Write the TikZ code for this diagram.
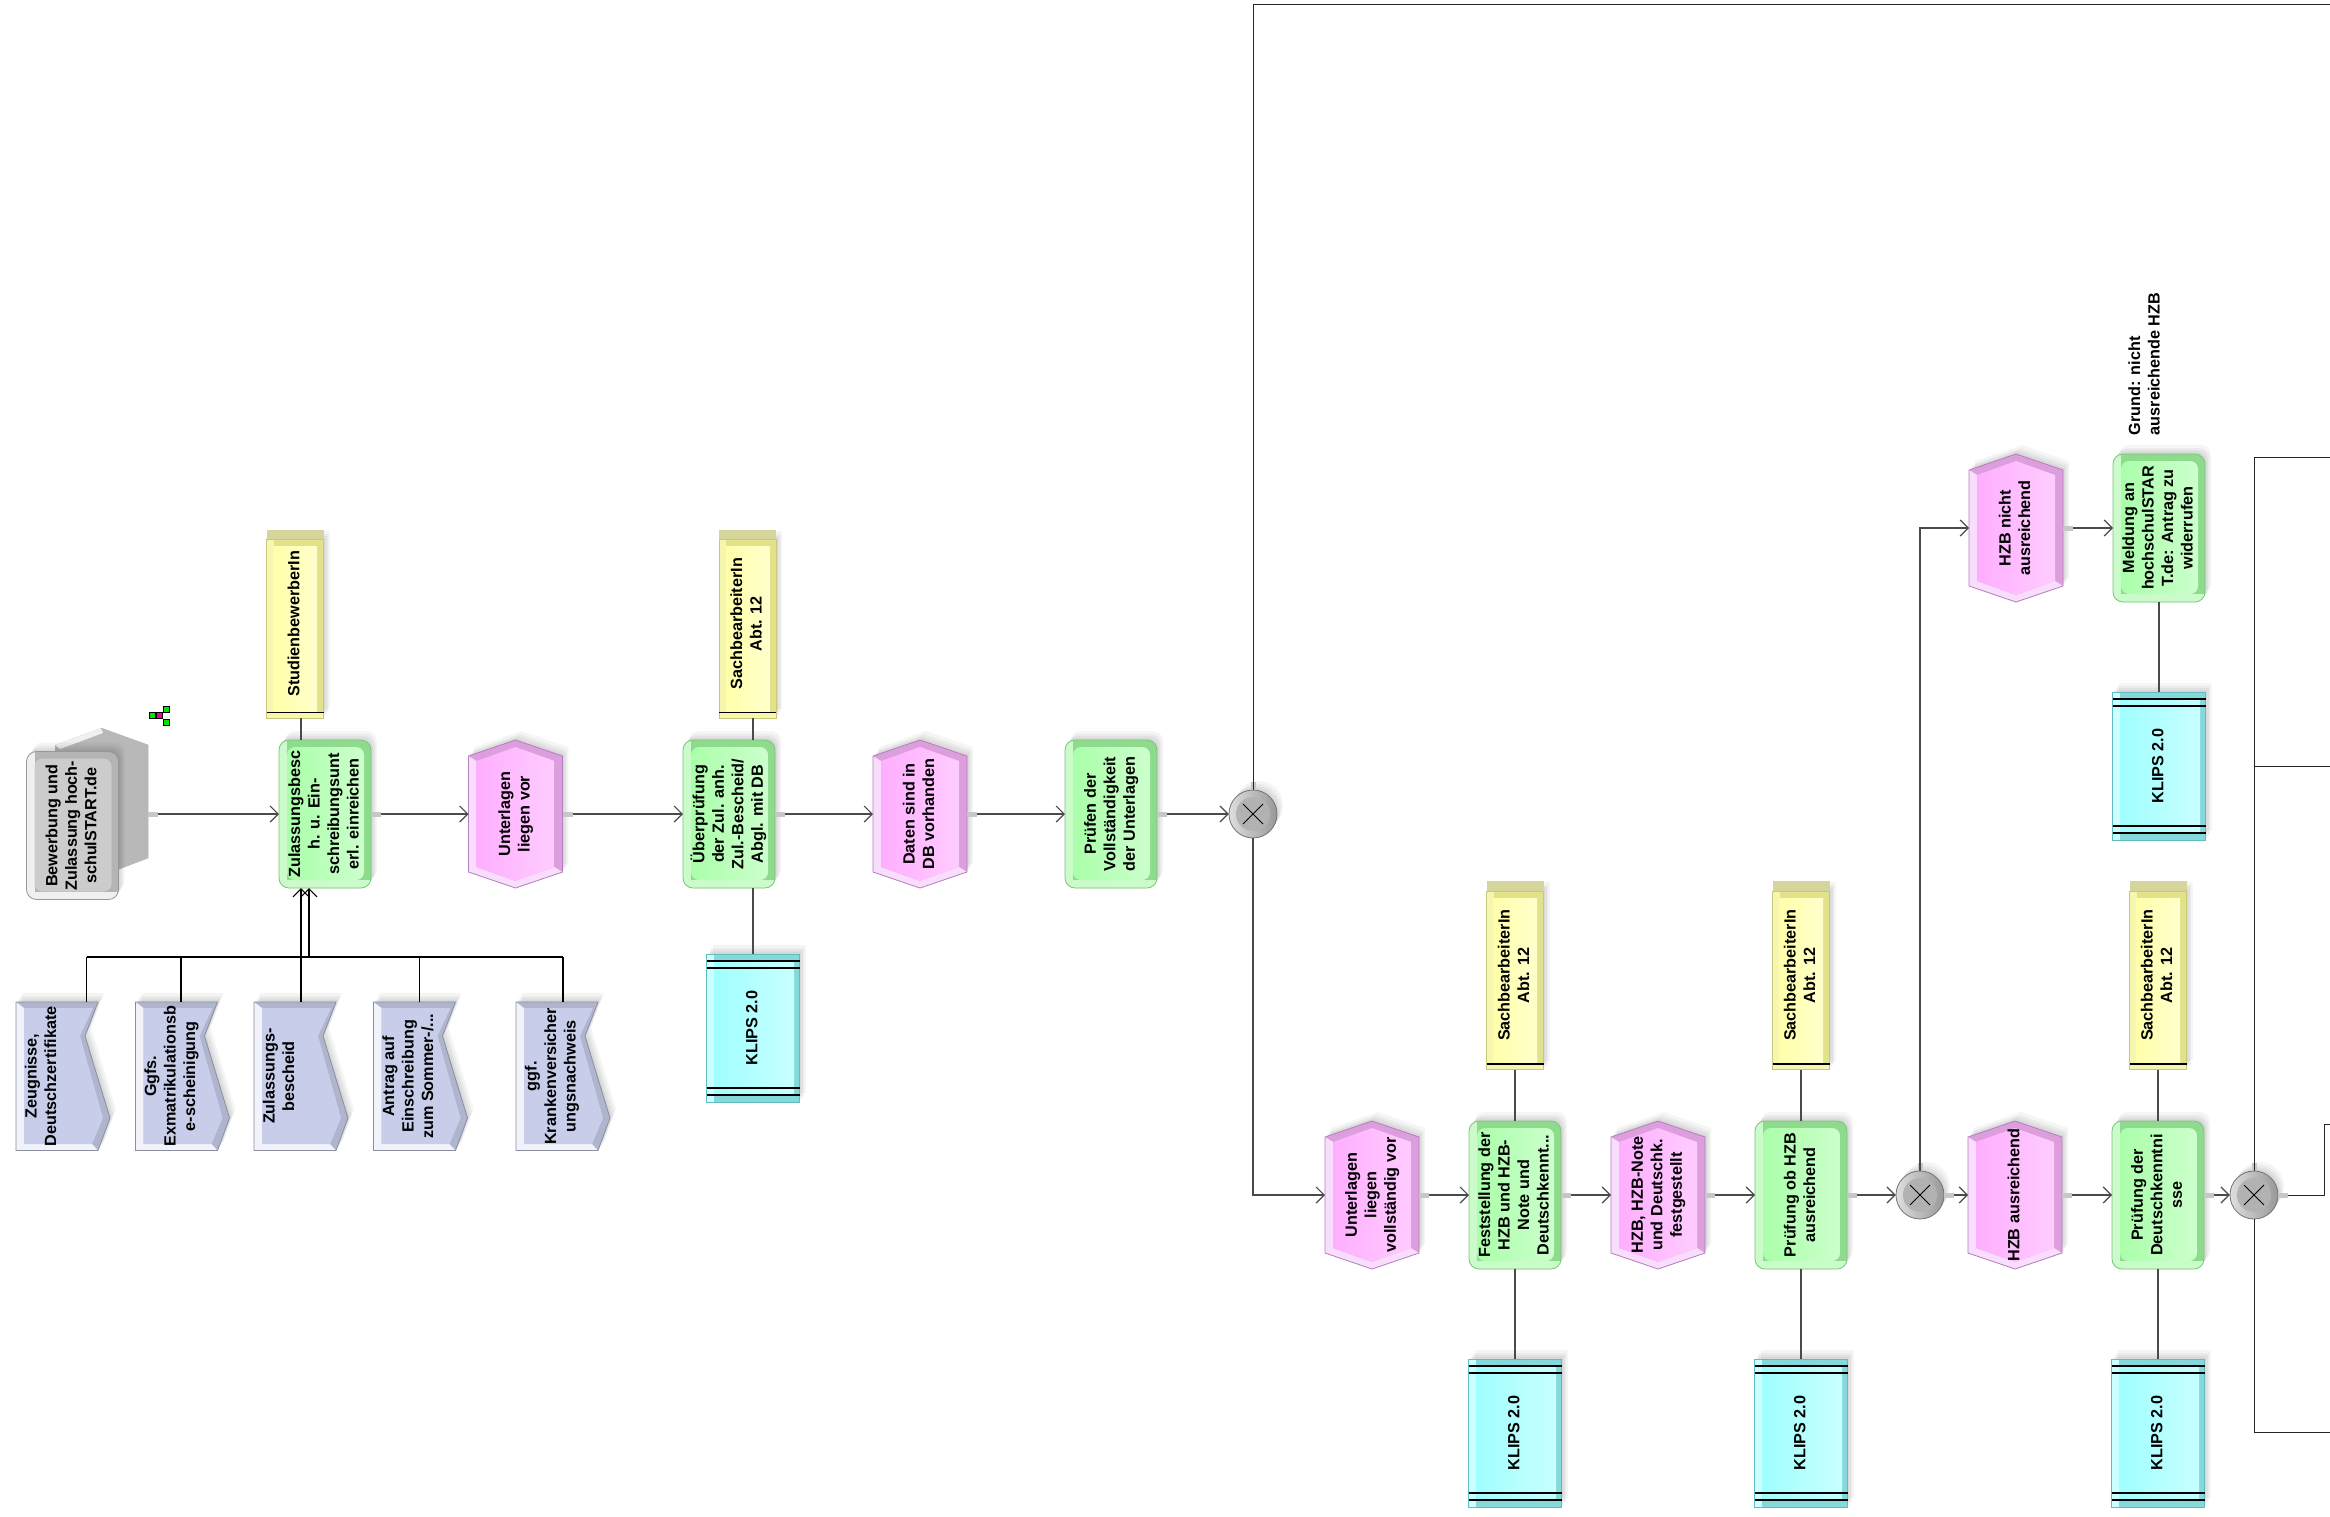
\documentclass[tikz,border=0pt]{standalone}
\usepackage{graphicx}
\usepackage{fontspec}
\setmainfont{Liberation Sans}
\usetikzlibrary{arrows.meta,calc}
\definecolor{lineC}{HTML}{4A4A4A}
\definecolor{fnDark}{HTML}{8EDB8E}\definecolor{fnLight}{HTML}{CBFACB}\definecolor{fnA}{HTML}{AAFFAA}\definecolor{fnB}{HTML}{CCFFCC}\definecolor{fnE}{HTML}{7CC47C}
\definecolor{evDark}{HTML}{DC9EDC}\definecolor{evLight}{HTML}{F9DDFD}\definecolor{evA}{HTML}{FFAEFF}\definecolor{evB}{HTML}{FFCCFF}\definecolor{evE}{HTML}{B47FBE}
\definecolor{roDark}{HTML}{E2E28A}\definecolor{roLight}{HTML}{F6F6AE}\definecolor{roA}{HTML}{FFFFAA}\definecolor{roB}{HTML}{FFFFCC}\definecolor{roE}{HTML}{C8C87A}\definecolor{roTop}{HTML}{D6D69C}
\definecolor{syDark}{HTML}{84DADA}\definecolor{syLight}{HTML}{CCFFFF}\definecolor{syA}{HTML}{A0FFFF}\definecolor{syB}{HTML}{C8FFFF}\definecolor{syE}{HTML}{60BCC0}
\definecolor{doDark}{HTML}{B0B5CE}\definecolor{doLight}{HTML}{F2F3FA}\definecolor{doA}{HTML}{C8CDEA}\definecolor{doE}{HTML}{8A8E9E}
\definecolor{grDark}{HTML}{B4B4B4}\definecolor{grLight}{HTML}{F0F0F0}\definecolor{grA}{HTML}{CCCCCC}\definecolor{grE}{HTML}{989898}
\newcommand{\txtrot}[1]{\rotatebox{90}{\fontsize{16.2}{19.5}\selectfont\bfseries\begin{tabular}{@{}c@{}}#1\end{tabular}}}
\newcommand{\txtrotl}[1]{\rotatebox{90}{\fontsize{16.2}{19.5}\selectfont\bfseries\begin{tabular}{@{}l@{}}#1\end{tabular}}}
\newcommand{\ShadowPath}[1]{\foreach \sx/\sy in {1.5/-2,3/-4,4.5/-6,6/-9}{\fill[black,opacity=.04,shift={(\sx,\sy)}] #1;}}
\newcommand{\RoundBevel}[9]{%
 \begin{scope}[shift={(#1,#2)}]
 \ShadowPath{[rounded corners=10pt] (-#3,-#4) rectangle (#3,#4)}
 \fill[#5,rounded corners=10pt] (-#3,-#4) rectangle (#3,#4);
 \begin{scope}
  \clip[rounded corners=10pt] (-#3,-#4) rectangle (#3,#4);
  \fill[#6] (-#3,-#4) rectangle ($(-#3,#4)+(8,0)$);
  \fill[#6] ($(-#3,#4)+(0,-8)$) rectangle (#3,#4);
 \end{scope}
 \shade[left color=#7,right color=#8,rounded corners=8pt] ($(-#3,-#4)+(8,7)$) rectangle ($(#3,#4)+(-7,-8)$);
 \draw[#9,line width=.8pt,rounded corners=10pt] (-#3,-#4) rectangle (#3,#4);
 \end{scope}}
\newcommand{\FnBox}[4]{%
 \RoundBevel{#2}{#3}{46}{74}{fnDark}{fnLight}{fnA}{fnB}{fnE}
 \node[plainbox,minimum width=92pt,minimum height=148pt] (#1) at (#2,#3) {\hspace*{1pt}\txtrot{#4}};}
\newcommand{\EvtBox}[4]{%
 \begin{scope}[shift={(#2,#3)}]
 \ShadowPath{(-47,-58)--(0,-74)--(47,-58)--(47,58)--(0,74)--(-47,58)--cycle}
 \fill[evDark] (-47,-58)--(0,-74)--(47,-58)--(47,58)--(0,74)--(-47,58)--cycle;
 \fill[evLight] (-47,-58)--(-47,58)--(0,74)--(47,58)--(39,53)--(0,67)--(-39,53)--(-39,-53)--cycle;
 \shade[left color=evA,right color=evB] (-39,-53)--(0,-67)--(39,-53)--(39,53)--(0,67)--(-39,53)--cycle;
 \draw[evE,line width=.8pt] (-47,-58)--(0,-74)--(47,-58)--(47,58)--(0,74)--(-47,58)--cycle;
 \end{scope}
 \node[plainbox,minimum width=94pt,minimum height=148pt] (#1) at (#2,#3) {\hspace*{1pt}\txtrot{#4}};}
\newcommand{\RoleBox}[4]{%
 \begin{scope}[shift={(#2,#3)}]
 \ShadowPath{(-28.5,10)rectangle(28.5,188.5)}
 \fill[roTop] (-28.5,0) rectangle (28.5,11);
 \fill[roDark] (-28.5,10) rectangle (28.5,188.5);
 \fill[roLight] (-28.5,10) rectangle (-21.5,188.5);
 \fill[roLight] (-28.5,183) rectangle (28.5,188.5);
 \shade[left color=roA,right color=roB] (-21.5,17) rectangle (22,183);
 \draw[roE,line width=.8pt] (-28.5,10) rectangle (28.5,188.5);
 \draw[black,line width=1.6pt] (-28.5,183) -- (28.5,183);
 \end{scope}
 \node[plainbox,minimum width=57pt,minimum height=188.5pt,anchor=north] (#1) at (#2,#3) {\hspace*{1pt}\txtrot{#4}};}
\newcommand{\SysBox}[3]{%
 \begin{scope}[shift={(#2,#3)}]
 \ShadowPath{(-46.5,0)rectangle(46.5,148)}
 \fill[syDark] (-46.5,0) rectangle (46.5,148);
 \fill[syLight] (-46.5,0) rectangle (-39,148);
 \shade[left color=syA,right color=syB] (-39,7) rectangle (41,141);
 \draw[syE,line width=.8pt] (-46.5,0) rectangle (46.5,148);
 \draw[black,line width=1.6pt] (-46.5,7)--(46.5,7) (-46.5,14)--(46.5,14) (-46.5,134)--(46.5,134) (-46.5,141)--(46.5,141);
 \end{scope}
 \node[plainbox,minimum width=93pt,minimum height=148pt,anchor=north] (#1) at (#2,#3) {\hspace*{1pt}\txtrot{KLIPS 2.0}};}
\newcommand{\DocBox}[4]{%
 \begin{scope}[shift={(#2,#3)}]
 \ShadowPath{(0,0)--(82,0)--(69,34)--(94,116)--(82,148.5)--(0,148.5)--cycle}
 \fill[doDark] (0,0)--(82,0)--(69,34)--(94,116)--(82,148.5)--(0,148.5)--cycle;
 \fill[doLight] (0,0)--(0,148.5)--(82,148.5)--(76,142)--(8,142)--(8,6)--cycle;
 \fill[doA] (8,6)--(77,6)--(64,34)--(87,116)--(76,142)--(8,142)--cycle;
 \draw[doE,line width=.8pt] (0,0)--(82,0)--(69,34)--(94,116)--(82,148.5)--(0,148.5)--cycle;
 \end{scope}
 \node[plainbox,minimum width=94pt,minimum height=148.5pt,anchor=north west] (#1) at (#2,#3) {\makebox[94pt][l]{\hspace{7pt}\txtrot{#4}}};}
\newcommand{\XorBox}[3]{%
 \begin{scope}[shift={(#2,#3)}]
 \ShadowPath{(0,0) circle[radius=24]}
 \shade[left color=grLight!70!grDark,right color=grE] (0,0) circle[radius=24];
 \fill[black!30] (0,0) circle[radius=17];
 \draw[black!55,line width=.8pt] (0,0) circle[radius=24];
 \draw[black,line width=1pt] (-10,-10)--(10,10) (-10,10)--(10,-10);
 \end{scope}
 \node[circle,inner sep=0pt,minimum size=48pt] (#1) at (#2,#3) {};}
\tikzset{
 plainbox/.style={inner sep=0pt,outer sep=0pt,rectangle},
 flow/.style={draw=lineC,line width=1.2pt,-{Straight Barb[length=8pt,width=16pt]}},
 plainline/.style={draw=black!85,line width=1pt},
 attach/.style={draw=lineC,line width=1.4pt},
 busline/.style={draw=black,line width=1.2pt},
 stub/.style={draw=black!22,line width=5pt},
 icG/.style={draw=black,line width=.5pt,fill=green!90!black,inner sep=0pt,minimum size=6pt},
 icM/.style={draw=black,line width=.5pt,fill=magenta,inner sep=0pt,minimum size=6pt}
}
\begin{document}
\begin{tikzpicture}[x=1pt,y=-1pt]
\useasboundingbox (0,0) rectangle (2330,1516);
\fill[white] (0,0) rectangle (2330,1516);

% start process interface
\fill[grA!90!black] (55,745)--(101,728)--(148,745)--(148,858)--(119,869)--(55,869)--cycle;
\fill[grLight] (55,745)--(101,728)--(103,733)--(60,749)--cycle;
\draw[grE!70,line width=.6pt] (101,728)--(148,745)--(148,858)--(119,869);
\RoundBevel{72.5}{825.5}{46}{74}{grDark}{grLight}{grA}{grA}{grE}
\node[plainbox,minimum width=92pt,minimum height=148pt] (start) at (72.5,825.5) {\hspace*{1pt}\txtrot{Bewerbung und\\Zulassung hoch-\\schulSTART.de}};

% small assignment icon
\node[icG] (ica) at (152,715.5) {};
\node[icG] (icb) at (166,709) {};
\node[icG] (icc) at (166,722) {};
\node[icM] (icm) at (159.5,715.5) {};
\draw[black,line width=.4pt] (ica)--(icm) (icm)--(icb) (icm)--(icc);

% nodes
\RoleBox{r1}{295}{529.5}{StudienbewerberIn}
\FnBox{f1}{325}{814}{Zulassungsbesc\\h. u. Ein-\\schreibungsunt\\erl. einreichen}
\EvtBox{e1}{515.5}{814}{Unterlagen\\liegen vor}
\RoleBox{r2}{747.5}{529.5}{SachbearbeiterIn\\Abt. 12}
\FnBox{f2}{729}{814}{Überprüfung\\der Zul. anh.\\Zul.-Bescheid/\\Abgl. mit DB}
\SysBox{k2}{753}{954}
\EvtBox{e2}{920}{814}{Daten sind in\\DB vorhanden}
\FnBox{f3}{1111}{814}{Prüfen der\\Vollständigkeit\\der Unterlagen}
\XorBox{c1}{1253}{814}

\EvtBox{e3}{1372}{1195}{Unterlagen\\liegen\\vollständig vor}
\RoleBox{r3}{1515}{881}{SachbearbeiterIn\\Abt. 12}
\FnBox{f4}{1515}{1195}{Feststellung der\\HZB und HZB-\\Note und\\Deutschkennt...}
\SysBox{k4}{1515}{1359}
\EvtBox{e4}{1658}{1195}{HZB, HZB-Note\\und Deutschk.\\festgestellt}
\RoleBox{r4}{1801}{881}{SachbearbeiterIn\\Abt. 12}
\FnBox{f5}{1801}{1195}{Prüfung ob HZB\\ausreichend}
\SysBox{k5}{1801}{1359}
\XorBox{c2}{1920}{1195}

\EvtBox{e5}{2016}{528}{HZB nicht\\ausreichend}
\FnBox{f6}{2159}{528}{Meldung an\\hochschulSTAR\\T.de: Antrag zu\\widerrufen}
\SysBox{k6}{2159}{692}
\node[plainbox,anchor=south] (anno) at (2146,435) {\txtrotl{Grund: nicht\\ausreichende HZB}};

\EvtBox{e6}{2015}{1195}{HZB ausreichend}
\RoleBox{r7}{2158}{881}{SachbearbeiterIn\\Abt. 12}
\FnBox{f7}{2158}{1195}{Prüfung der\\Deutschkenntni\\sse}
\SysBox{k7}{2158}{1359}
\XorBox{c3}{2254}{1195}

\DocBox{d1}{16}{1002}{Zeugnisse,\\Deutschzertifikate}
\DocBox{d2}{135.5}{1002}{Ggfs.\\Exmatrikulationsb\\e-scheinigung}
\DocBox{d3}{254}{1002}{Zulassungs-\\bescheid}
\DocBox{d4}{373.5}{1002}{Antrag auf\\Einschreibung\\zum Sommer-/...}
\DocBox{d5}{516}{1002}{ggf.\\Krankenversicher\\ungsnachweis}

% free-end coordinates
\coordinate (bus) at (0,957);
\coordinate (startout) at (148,814);
\coordinate (p1) at (86.5,1002);
\coordinate (p2) at (181,1002);
\coordinate (p3) at (301,1002);
\coordinate (p3b) at (309,1002);
\coordinate (p4) at (419.5,1002);
\coordinate (p5) at (563,1002);
\coordinate (topend) at (2330,4);
\coordinate (c3up) at (2330,457);
\coordinate (c3mid) at (2330,766);
\coordinate (c3down) at (2330,1432);
\coordinate (c3rA) at (2324,1195);
\coordinate (c3rB) at (2324,1124);
\coordinate (c3rC) at (2330,1124);

% document bus and inputs
\draw[busline] (p1) -- (p1|-bus);
\draw[busline] (p2) -- (p2|-bus);
\draw[busline] (p3) -- (p3|-bus);
\draw[busline] (p4) -- (p4|-bus);
\draw[busline] (p5) -- (p5|-bus);
\draw[busline] (p1|-bus) -- (p5|-bus);
\draw[flow,draw=black] (p3|-bus) -- (p3|-f1.south);
\draw[flow,draw=black] (p3b|-bus) -- (p3b|-f1.south);

% stubs of outgoing flows
\draw[stub] (startout) -- ([xshift=10pt]startout);
\foreach \n in {f1,e1,f2,e2,f3,e3,f4,e4,f5,e5,e6,f7}{
 \draw[stub] (\n.east) -- ([xshift=10pt]\n.east);}
\foreach \n in {c2,c3}{\draw[stub] (\n.east) -- ([xshift=10pt]\n.east);}
\foreach \n in {c1,c2,c3}{\draw[stub] (\n.north) -- ([yshift=8pt]\n.north);}

% flows
\draw[flow] ([xshift=10pt]startout) -- (f1.west);
\draw[flow] ([xshift=10pt]f1.east) -- (e1.west);
\draw[flow] ([xshift=10pt]e1.east) -- (f2.west);
\draw[flow] ([xshift=10pt]f2.east) -- (e2.west);
\draw[flow] ([xshift=10pt]e2.east) -- (f3.west);
\draw[flow] ([xshift=10pt]f3.east) -- (c1.west);
\draw[plainline] (c1.north) |- (topend);
\draw[flow] (c1.south) |- (e3.west);
\draw[flow] ([xshift=10pt]e3.east) -- (f4.west);
\draw[flow] ([xshift=10pt]f4.east) -- (e4.west);
\draw[flow] ([xshift=10pt]e4.east) -- (f5.west);
\draw[flow] ([xshift=10pt]f5.east) -- (c2.west);
\draw[flow] (c2.north) |- (e5.west);
\draw[flow] ([xshift=10pt]e5.east) -- (f6.west);
\draw[flow] ([xshift=10pt]c2.east) -- (e6.west);
\draw[flow] ([xshift=10pt]e6.east) -- (f7.west);
\draw[flow] ([xshift=10pt]f7.east) -- (c3.west);
\draw[plainline] (c3.north) |- (c3up);
\draw[plainline] (c3.north|-c3mid) -- (c3mid);
\draw[plainline] (c3.south) |- (c3down);
\draw[plainline] ([xshift=10pt]c3.east) -- (c3rA) -- (c3rB) -- (c3rC);

% attachments
\draw[attach] (r1.south-|p3) -- (f1.north-|p3);
\draw[attach] (r2.south-|k2.north) -- (f2.north-|k2.north);
\draw[attach] (f2.south-|k2.north) -- (k2.north);
\draw[attach] (r3.south) -- (f4.north);
\draw[attach] (f4.south) -- (k4.north);
\draw[attach] (r4.south) -- (f5.north);
\draw[attach] (f5.south) -- (k5.north);
\draw[attach] (f6.south) -- (k6.north);
\draw[attach] (r7.south) -- (f7.north);
\draw[attach] (f7.south) -- (k7.north);
\end{tikzpicture}
\end{document}
